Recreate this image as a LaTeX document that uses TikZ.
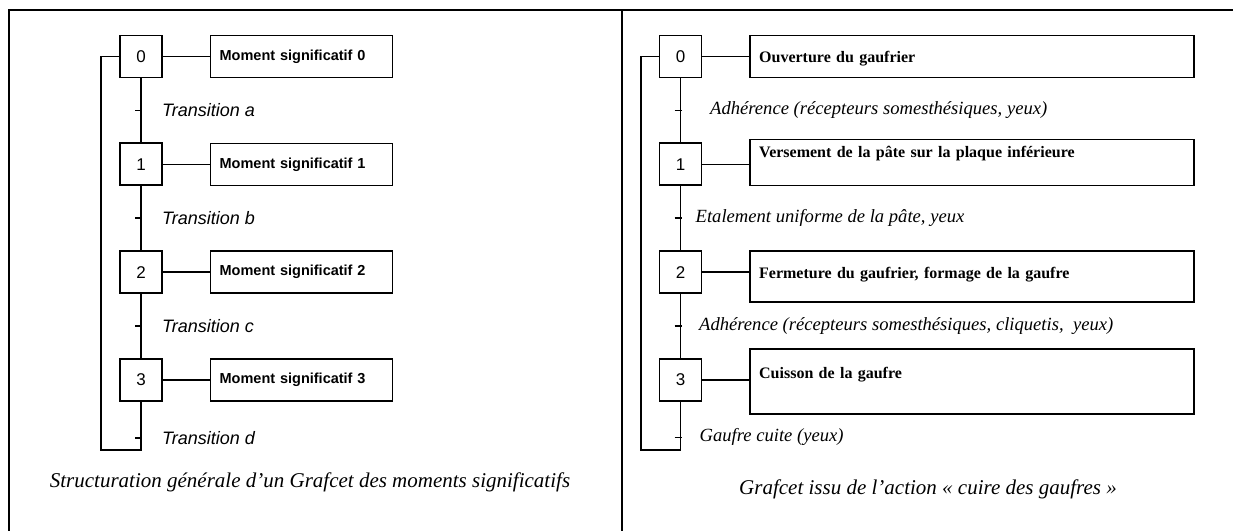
\documentclass[tikz,border=0pt]{standalone}
\usepackage{fontspec}
\setmainfont{Liberation Serif}
\setsansfont{Liberation Sans}
\usetikzlibrary{positioning}

\begin{document}
\begin{tikzpicture}[x=1pt, y=-1pt, node distance=64pt,
        etape/.style={draw, line width=1.8pt, minimum size=42pt, inner sep=0pt,
                font=\sffamily\fontsize{17}{20}\selectfont},
        actionL/.style={draw, line width=1.5pt, minimum height=42pt, text width=164pt,
                inner xsep=9pt, inner ysep=0pt, align=left,
                font=\sffamily\bfseries\fontsize{14.5}{17}\selectfont},
        actionR/.style={draw, line width=1.5pt, text width=426pt,
                inner xsep=9pt, inner ysep=0pt, align=left,
                font=\bfseries\fontsize{16}{19}\selectfont},
        transL/.style={inner sep=0pt, font=\sffamily\itshape\fontsize{18}{21}\selectfont},
        transR/.style={inner sep=0pt, font=\itshape\fontsize{18.6}{22}\selectfont},
        legende/.style={inner sep=0pt, font=\itshape\fontsize{21}{25}\selectfont},
        lien/.style={line width=1.6pt},
        cadre/.style={line width=2.4pt}]

        \useasboundingbox (0,0) rectangle (1233,531);

        \draw[cadre] (1233,10) -- (9,10) -- (9,531);
        \draw[cadre] (622,10) -- (622,531);

        % grafcet general
        \node[etape] (s0) at (141,56.5) {0};
        \node[etape, below=of s0] (s1) {1};
        \node[etape, below=of s1] (s2) {2};
        \node[etape, below=of s2] (s3) {3};

        \node[actionL, right=47pt of s0] (a0) {Moment significatif 0};
        \node[actionL, right=47pt of s1] (a1) {Moment significatif 1};
        \node[actionL, right=47pt of s2] (a2) {Moment significatif 2};
        \node[actionL, right=47pt of s3] (a3) {Moment significatif 3};

        \coordinate[left=18pt of s0] (lg0);
        \coordinate[below=48pt of s3] (lg3);
        \path (s0) -- (s1) coordinate[midway] (ta);
        \path (s1) -- (s2) coordinate[midway] (tb);
        \path (s2) -- (s3) coordinate[midway] (tc);
        \coordinate[below=36pt of s3] (td);

        \node[transL, right=21pt of ta] (tra) {Transition a};
        \node[transL, right=21pt of tb] (trb) {Transition b};
        \node[transL, right=21pt of tc] (trc) {Transition c};
        \node[transL, right=21pt of td] (trd) {Transition d};

        \draw[lien] (s0) -- (s1) (s1) -- (s2) (s2) -- (s3);
        \draw[lien] (s3) -- (lg3) -| (lg0) -- (s0);
        \draw[lien] (s0) -- (a0) (s1) -- (a1) (s2) -- (a2) (s3) -- (a3);
        \draw[lien] ([xshift=-6pt]ta) -- ([xshift=1pt]ta) ([xshift=-6pt]tb) -- ([xshift=1pt]tb)
                ([xshift=-6pt]tc) -- ([xshift=1pt]tc) ([xshift=-6pt]td) -- ([xshift=1pt]td);

        \node[legende] (capL) at (310,482) {Structuration générale d’un Grafcet des moments significatifs};

        % grafcet des gaufres
        \node[etape] (r0) at (680.5,56.5) {0};
        \node[etape, below=of r0] (r1) {1};
        \node[etape, below=of r1] (r2) {2};
        \node[etape, below=of r2] (r3) {3};

        \node[actionR, right=47pt of r0, text height=26.5pt, text depth=15.5pt] (b0) {Ouverture du gaufrier};
        \node[actionR, right=47pt of r1, yshift=2pt, text height=18.5pt, text depth=27.5pt] (b1) {Versement de la pâte sur la plaque inférieure};
        \node[actionR, right=47pt of r2, yshift=-4.5pt, text height=27.5pt, text depth=23.5pt] (b2) {Fermeture du gaufrier, formage de la gaufre};
        \node[actionR, right=47pt of r3, yshift=-1.5pt, text height=29.5pt, text depth=35.5pt] (b3) {Cuisson de la gaufre};

        \coordinate[left=17.5pt of r0] (lr0);
        \coordinate[below=48pt of r3] (lr3);
        \path (r0) -- (r1) coordinate[midway] (ua);
        \path (r1) -- (r2) coordinate[midway] (ub);
        \path (r2) -- (r3) coordinate[midway] (uc);
        \coordinate[below=35.5pt of r3] (ud);

        \node[transR, right=29.5pt of ua] (tua) {Adhérence (récepteurs somesthésiques, yeux)};
        \node[transR, right=15pt of ub] (tub) {Etalement uniforme de la pâte, yeux};
        \node[transR, right=18.5pt of uc] (tuc) {Adhérence (récepteurs somesthésiques, cliquetis, \ yeux)};
        \node[transR, right=19pt of ud] (tud) {Gaufre cuite (yeux)};

        \draw[lien] (r0) -- (r1) (r1) -- (r2) (r2) -- (r3);
        \draw[lien] (r3) -- (lr3) -| (lr0) -- (r0);
        \draw[lien] (r0.east) -- (r0.east -| b0.west) (r1.east) -- (r1.east -| b1.west)
                (r2.east) -- (r2.east -| b2.west) (r3.east) -- (r3.east -| b3.west);
        \draw[lien] ([xshift=-6pt]ua) -- ([xshift=1pt]ua) ([xshift=-6pt]ub) -- ([xshift=1pt]ub)
                ([xshift=-6pt]uc) -- ([xshift=1pt]uc) ([xshift=-6pt]ud) -- ([xshift=1pt]ud);

        \node[legende] (capR) at (928,489) {Grafcet issu de l’action « cuire des gaufres »};

\end{tikzpicture}
\end{document}
